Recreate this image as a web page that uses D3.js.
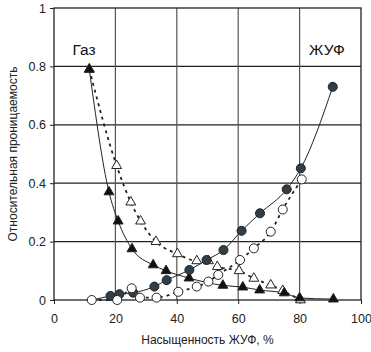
<!DOCTYPE html>
<html>
<head>
<meta charset="utf-8">
<script src="https://cdn.jsdelivr.net/npm/d3@7"></script>
<style>
  body { margin: 0; background: #fff; }
  text { font-family: "Liberation Sans", Arial, sans-serif; }
</style>
</head>
<body>
<div id="chart"></div>
<script>
// gas, solid line, filled triangles
var gasSolidX = [11.5, 17.9, 20.9, 25.4, 32.3, 36.5, 44.0, 55.0, 61.5, 67.0, 75.0, 80.0, 91.0];
var gasSolidY = [0.79, 0.37, 0.27, 0.175, 0.12, 0.10, 0.075, 0.05, 0.044, 0.034, 0.024, 0.007, 0.003];
// gas, dashed line, open triangles
var gasDashX = [11.5, 20.4, 25.0, 28.2, 33.2, 40.2, 46.5, 50.3, 53.2, 60.3, 65.1, 70.6, 74.5, 80.3];
var gasDashY = [0.79, 0.46, 0.335, 0.27, 0.20, 0.158, 0.134, 0.134, 0.114, 0.10, 0.074, 0.051, 0.032, 0.0];
// liquid (ЖУФ), solid line, filled circles
var liqSolidX = [12.3, 18.4, 21.3, 25.8, 32.7, 36.7, 44.1, 49.7, 55.2, 61.1, 67.1, 75.8, 80.4, 90.8];
var liqSolidY = [0.0, 0.014, 0.02, 0.025, 0.046, 0.068, 0.103, 0.137, 0.171, 0.237, 0.297, 0.379, 0.451, 0.73];
// liquid (ЖУФ), dashed line, open circles
var liqDashX = [12.3, 20.6, 25.3, 28.0, 33.4, 40.5, 46.5, 50.3, 53.5, 60.6, 65.1, 70.6, 74.5, 80.7];
var liqDashY = [0.0, 0.0, 0.04, 0.008, 0.008, 0.028, 0.046, 0.063, 0.086, 0.137, 0.177, 0.234, 0.31, 0.413];

var xTicks = [0, 20, 40, 60, 80, 100];
var yTicks = [0, 0.2, 0.4, 0.6, 0.8, 1];

var width = 371, height = 352;
var margin = {top: 8, right: 10, bottom: 52, left: 54};

var svg = d3.select("#chart").append("svg")
  .attr("width", width)
  .attr("height", height);

var x = d3.scaleLinear().domain([0, 100]).range([margin.left, width - margin.right]);
var y = d3.scaleLinear().domain([0, 1]).range([height - margin.bottom, margin.top]);

// grid
svg.append("g").selectAll("line.h")
  .data(yTicks.slice(1, -1))
  .enter().append("line")
  .attr("x1", x(0)).attr("x2", x(100))
  .attr("y1", function(d) { return y(d); })
  .attr("y2", function(d) { return y(d); })
  .attr("stroke", "#222").attr("stroke-width", 1.2);

svg.append("g").selectAll("line.v")
  .data(xTicks.slice(1, -1))
  .enter().append("line")
  .attr("y1", y(0)).attr("y2", y(1))
  .attr("x1", function(d) { return x(d); })
  .attr("x2", function(d) { return x(d); })
  .attr("stroke", "#555").attr("stroke-width", 1.2);

// frame
svg.append("rect")
  .attr("x", x(0)).attr("y", y(1))
  .attr("width", x(100) - x(0)).attr("height", y(0) - y(1))
  .attr("fill", "none").attr("stroke", "#222").attr("stroke-width", 1.3);

// axes
var xAxis = svg.append("g")
  .attr("transform", "translate(0," + y(0) + ")")
  .call(d3.axisBottom(x).tickValues(xTicks).tickSize(4).tickPadding(10).tickFormat(d3.format("d")));
var yAxis = svg.append("g")
  .attr("transform", "translate(" + x(0) + ",0)")
  .call(d3.axisLeft(y).tickValues(yTicks).tickSize(4).tickPadding(4).tickFormat(function(d) { return d === 0 || d === 1 ? d : d3.format(".1f")(d); }));
[xAxis, yAxis].forEach(function(a) {
  a.select(".domain").remove();
  a.selectAll("line").attr("stroke", "#222");
  a.selectAll("text").attr("font-size", 12.5).attr("fill", "#222")
    .attr("font-family", "'Liberation Sans', Arial, sans-serif");
});

// axis titles
svg.append("text")
  .attr("x", (x(0) + x(100)) / 2).attr("y", 344)
  .attr("text-anchor", "middle").attr("font-size", 12).attr("fill", "#222")
  .text("Насыщенность ЖУФ, %");
svg.append("text")
  .attr("transform", "translate(17," + ((y(0) + y(1)) / 2) + ") rotate(-90)")
  .attr("text-anchor", "middle").attr("font-size", 12).attr("fill", "#222")
  .text("Относительная проницаемость");

// series labels
svg.append("text").attr("x", 84).attr("y", 55).attr("text-anchor", "middle")
  .attr("font-size", 15.5).attr("fill", "#111").text("Газ");
svg.append("text").attr("x", 327).attr("y", 55).attr("text-anchor", "middle")
  .attr("font-size", 15.5).attr("fill", "#111").text("ЖУФ");

function pts(xs, ys) { return xs.map(function(v, i) { return [v, ys[i]]; }); }

var line = d3.line()
  .x(function(d) { return x(d[0]); })
  .y(function(d) { return y(d[1]); })
  .curve(d3.curveMonotoneX);

var gasDash = {data: pts(gasDashX, gasDashY), dash: "3,4", w: 1.8, mark: "tri", fill: "#fff"};
var liqDash = {data: pts(liqDashX, liqDashY), dash: "3,4", w: 1.8, mark: "circ", fill: "#fff"};
var gasSolid = {data: pts(gasSolidX, gasSolidY), dash: null, w: 1, mark: "tri", fill: "#111"};
// first point of this curve has no marker in the original
var liqSolid = {data: pts(liqSolidX, liqSolidY), dash: null, w: 1, mark: "circ", fill: "#2f3e48", skipFirst: true};

[gasDash, liqDash, gasSolid, liqSolid].forEach(function(s) {
  svg.append("path")
    .datum(s.data)
    .attr("d", line)
    .attr("fill", "none")
    .attr("stroke", "#222")
    .attr("stroke-width", s.w)
    .attr("stroke-dasharray", s.dash);
});

var tri = d3.symbol().type(d3.symbolTriangle).size(42);
var circ = d3.symbol().type(d3.symbolCircle).size(64);

[gasDash, gasSolid, liqSolid, liqDash].forEach(function(s) {
  svg.append("g").selectAll("path")
    .data(s.skipFirst ? s.data.slice(1) : s.data)
    .enter().append("path")
    .attr("transform", function(d) { return "translate(" + x(d[0]) + "," + y(d[1]) + ")"; })
    .attr("d", s.mark === "tri" ? tri : circ)
    .attr("fill", s.fill)
    .attr("stroke", "#222")
    .attr("stroke-width", 1);
});
</script>
</body>
</html>
